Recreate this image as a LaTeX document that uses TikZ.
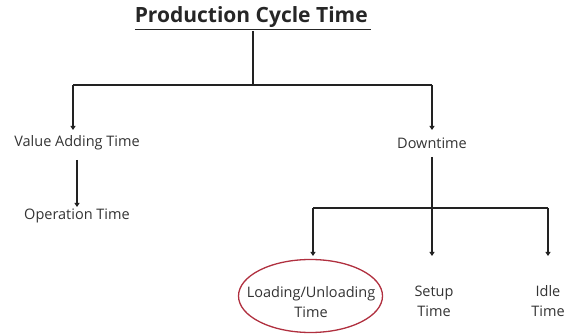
\documentclass[tikz,border=0pt]{standalone}
\usepackage{fontspec}
\setmainfont{Open Sans}
\usetikzlibrary{arrows.meta,shapes.geometric}
\definecolor{ovalred}{HTML}{B0303F}
\definecolor{linegray}{HTML}{222222}
\begin{document}
\begin{tikzpicture}[x=1pt,y=-1pt,
  lbl/.style={inner sep=0pt,font=\fontsize{14.5}{20}\selectfont,text=black!80,align=center},
  conn/.style={line width=1.4pt,draw=linegray},
  arr/.style={conn,-{Triangle[width=5pt,length=4pt]}}]
\useasboundingbox (0,0) rectangle (564,336);
\node[inner sep=0pt,font=\fontsize{21}{24}\selectfont\bfseries,text=black!85] (title) at (253,18) {\underline{Production Cycle Time\,}};
\coordinate (t1) at (253,31);
\coordinate (hub) at (253,85);
\coordinate (hl) at (73,85);
\coordinate (hr) at (432,85);
\node[lbl] (va) at (77,143) {Value Adding Time};
\node[lbl] (dt) at (432,143) {Downtime};
\node[lbl] (op) at (77,216) {Operation Time};
\coordinate (d1) at (432,208);
\coordinate (dl) at (313,208);
\coordinate (dr) at (548,208);
\node[lbl] (lu) at (311,302) {Loading/Unloading\\Time};
\node[lbl] (su) at (434,301) {Setup\\Time};
\node[lbl] (id) at (548,301) {Idle\\Time};
\draw[conn] (t1) -- (hub);
\draw[conn] (hl) -- (hr);
\draw[arr] (hl) -- (73,130);
\draw[arr] (hr) -- (432,130);
\draw[arr] (77,160) -- (77,207);
\draw[conn] (432,157) -- (d1);
\draw[conn] (dl) -- (dr);
\draw[arr] (dl) -- (313,256);
\draw[arr] (d1) -- (432,256);
\draw[arr] (dr) -- (548,256);
\node[draw=ovalred,line width=1.3pt,ellipse,minimum width=144pt,minimum height=73pt] (oval) at (310.5,296) {};
\end{tikzpicture}
\end{document}
